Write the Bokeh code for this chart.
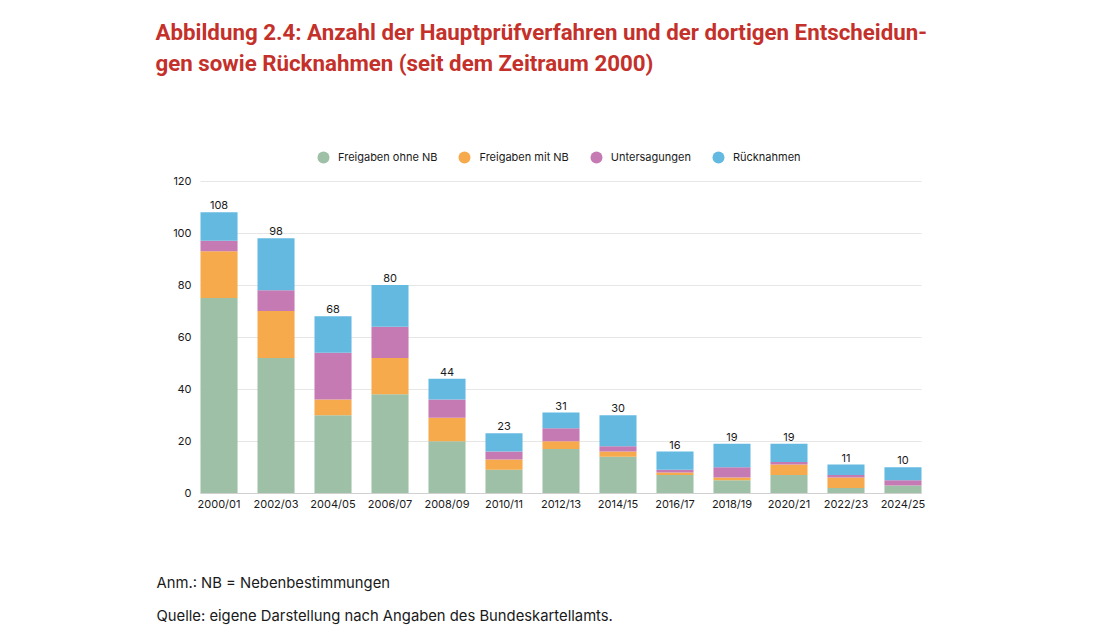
from bokeh.plotting import figure
from bokeh.models import (Range1d, FixedTicker, Legend, LegendItem, Label,
                          ColumnDataSource)
from bokeh.embed import file_html
from bokeh.resources import INLINE
from bokeh.core.properties import value

# Zeiträume (x-Achse)
periods = ["2000/01", "2002/03", "2004/05", "2006/07", "2008/09", "2010/11",
           "2012/13", "2014/15", "2016/17", "2018/19", "2020/21", "2022/23",
           "2024/25"]

# Anzahl je Kategorie
freigaben_ohne_nb = [75, 52, 30, 38, 20, 9, 17, 14, 7, 5, 7, 2, 3]
freigaben_mit_nb = [18, 18, 6, 14, 9, 4, 3, 2, 1, 1, 4, 4, 0]
untersagungen = [4, 8, 18, 12, 7, 3, 5, 2, 1, 4, 1, 1, 2]
ruecknahmen = [11, 20, 14, 16, 8, 7, 6, 12, 7, 9, 7, 4, 5]

series_labels = ["Freigaben ohne NB", "Freigaben mit NB", "Untersagungen",
                 "Rücknahmen"]
series_colors = ["#9DC0A6", "#F6AA4C", "#C57AB4", "#64B9E1"]
y_ticks = [0, 20, 40, 60, 80, 100, 120]

title_lines = ["Abbildung 2.4: Anzahl der Hauptprüfverfahren und der dortigen Entscheidun-",
               "gen sowie Rücknahmen (seit dem Zeitraum 2000)"]
note_lines = ["Anm.: NB = Nebenbestimmungen",
              "Quelle: eigene Darstellung nach Angaben des Bundeskartellamts."]

FONT = "Inter"
TEXT_COLOR = "#1a1a1a"
W, H = 1099, 638

# Page geometry (pixels from the top-left corner of the page)
CHART_LEFT, CHART_RIGHT = 200.0, 921.0
CHART_TOP, CHART_BOTTOM = 180.5, 492.7
Y_MAX = 120
BAR_W = 0.65

# The plot frame fills the whole page; the data ranges are chosen so that
# the bar area lands in the chart rectangle above.
n = len(periods)
x_lo, x_hi = -BAR_W / 2, n - 1 + BAR_W / 2
px_per_x = (CHART_RIGHT - CHART_LEFT) / (x_hi - x_lo)
px_per_y = (CHART_BOTTOM - CHART_TOP) / Y_MAX
x_range = Range1d(x_lo - CHART_LEFT / px_per_x,
                  x_hi + (W - CHART_RIGHT) / px_per_x)
y_range = Range1d(-(H - CHART_BOTTOM) / px_per_y, CHART_BOTTOM / px_per_y)

x = list(range(n))
totals = [a + b + c + d for a, b, c, d in
          zip(freigaben_ohne_nb, freigaben_mit_nb, untersagungen, ruecknahmen)]
keys = ["ohne", "mit", "unters", "rueck"]
src = ColumnDataSource(dict(x=x, ohne=freigaben_ohne_nb, mit=freigaben_mit_nb,
                            unters=untersagungen, rueck=ruecknahmen,
                            total=totals, total_txt=[str(t) for t in totals]))

p = figure(width=W, height=H, output_backend="svg", toolbar_location=None,
           x_range=x_range, y_range=y_range, min_border=0)
p.outline_line_color = None

# Gitter nur über der Balkenfläche
p.xgrid.grid_line_color = None
p.ygrid.grid_line_color = "#E6E6E6"
p.ygrid.ticker = FixedTicker(ticks=y_ticks)
p.ygrid.bounds = (0, Y_MAX)
p.ygrid.cross_bounds = (x_lo, x_hi)

p.vbar_stack(keys, x="x", width=BAR_W, color=series_colors, line_color=None,
             source=src)

# Summen über den Balken
p.text(x="x", y="total", text="total_txt", source=src,
       text_align="center", text_baseline="bottom", y_offset=-3,
       text_font=value(FONT), text_font_size="11px", text_color=TEXT_COLOR)

# Achsen an fester Position am Rand der Balkenfläche
p.yaxis.ticker = FixedTicker(ticks=y_ticks)
p.yaxis.fixed_location = x_lo
p.yaxis.bounds = (0, Y_MAX)
p.yaxis.axis_line_color = None
p.yaxis.major_label_standoff = 9
p.xaxis.ticker = FixedTicker(ticks=x)
p.xaxis.major_label_overrides = {i: lab for i, lab in enumerate(periods)}
p.xaxis.fixed_location = 0
p.xaxis.bounds = (x_lo, x_hi)
p.xaxis.axis_line_color = "#D0D0D0"
p.xaxis.major_label_standoff = 4
for ax in (p.xaxis, p.yaxis):
    ax.major_tick_line_color = None
    ax.minor_tick_line_color = None
    ax.major_tick_out = 0
    ax.minor_tick_out = 0
    ax.major_label_text_font = FONT
    ax.major_label_text_font_size = "11px"
    ax.major_label_text_color = TEXT_COLOR

# Legende über dem Diagramm (Kreissymbole)
legend_items = []
for lab, col in zip(series_labels, series_colors):
    r = p.scatter(x=[x_lo - 5], y=[-40], marker="circle", size=12,
                  fill_color=col, line_color=None)
    legend_items.append(LegendItem(label=lab, renderers=[r]))
LEGEND_TOP = 142
p.add_layout(Legend(items=legend_items, orientation="horizontal",
                    location=(308, H - LEGEND_TOP - 30),
                    glyph_width=30, glyph_height=30, label_standoff=-4,
                    spacing=12, padding=0, margin=0,
                    border_line_color=None, background_fill_alpha=0,
                    label_text_font=FONT, label_text_font_size="11px",
                    label_text_color=TEXT_COLOR), "center")


def page_label(text, left, mid_y, **style):
    """Text placed in page pixels (mid_y measured from the page top)."""
    return Label(x=left, y=H - mid_y, x_units="screen", y_units="screen",
                 text=text, text_baseline="middle", **style)


for i, line in enumerate(title_lines):
    p.add_layout(page_label(line, 155, 31 + 31 * i, text_font="Roboto",
                            text_font_style="bold", text_font_size="22.3px",
                            text_color="#C4302A"))

for i, line in enumerate(note_lines):
    p.add_layout(page_label(line, 156, 582 + 33 * i, text_font=FONT,
                            text_font_size="14.8px", text_color=TEXT_COLOR))

open("out.html", "w").write(file_html(p, INLINE))
